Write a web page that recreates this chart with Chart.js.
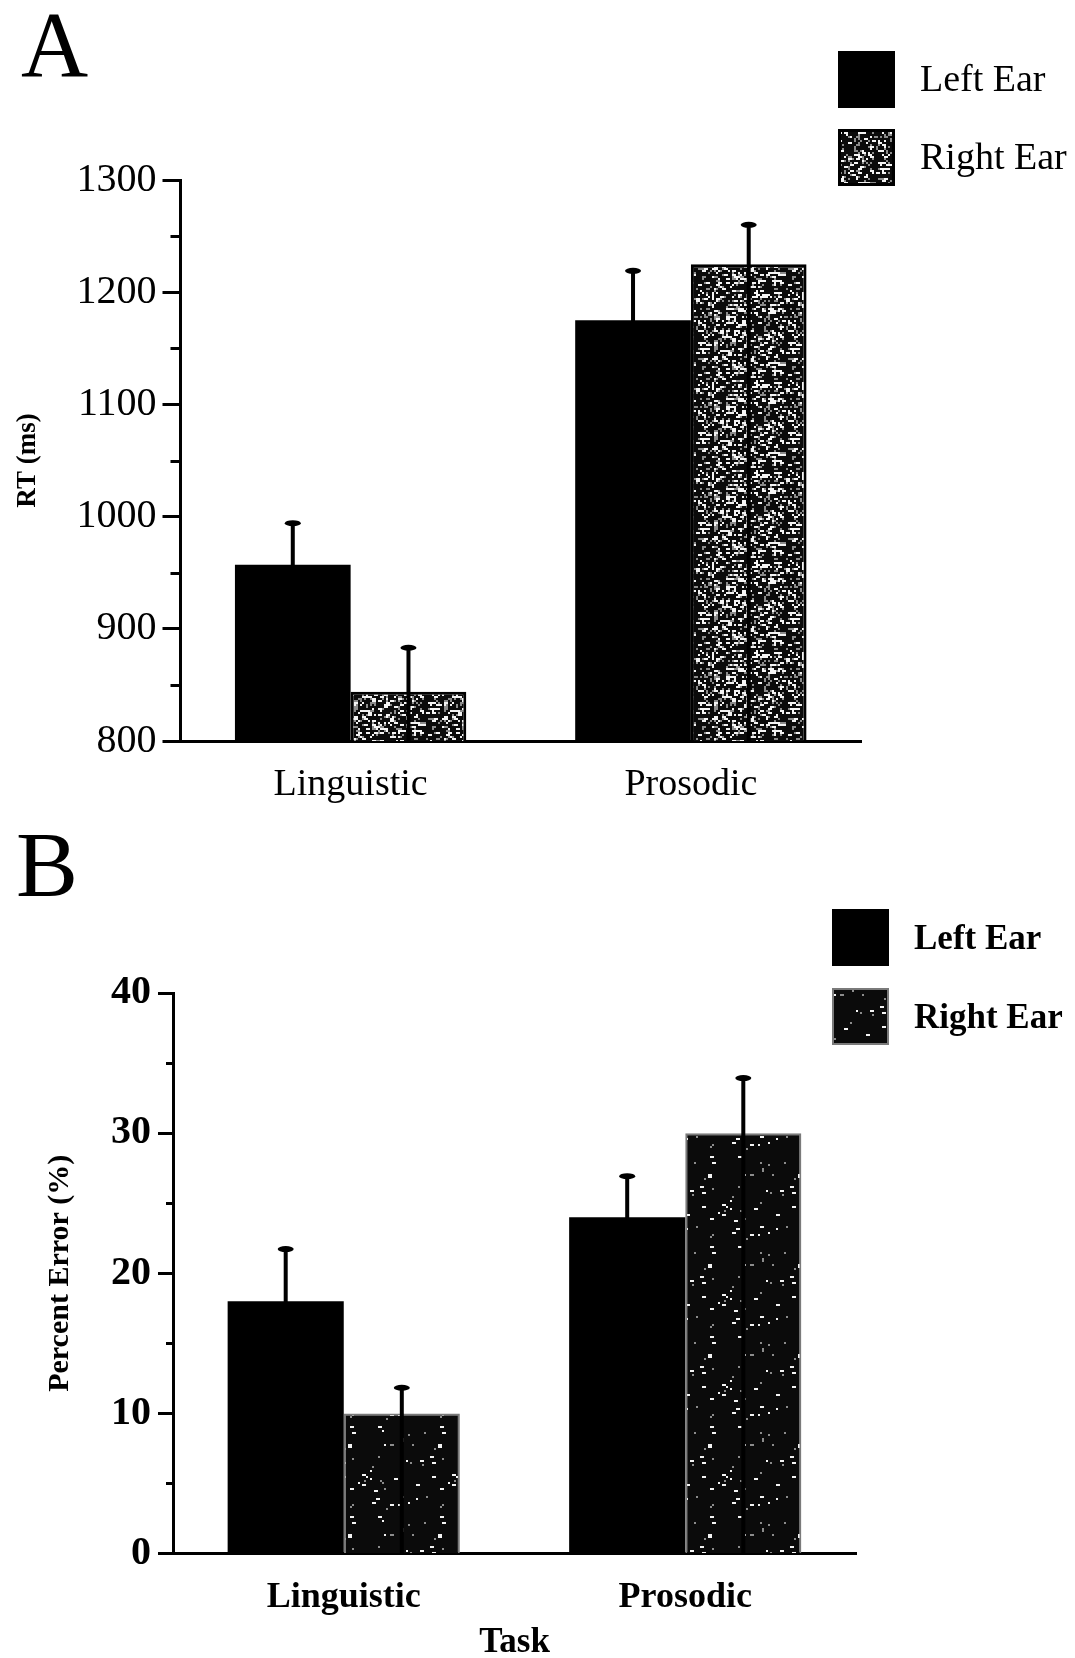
<!DOCTYPE html>
<html>
<head>
<meta charset="utf-8">
<script src="https://cdn.jsdelivr.net/npm/chart.js@4.4.0/dist/chart.umd.min.js"></script>
<style>
  body { margin: 0; background: #fff; }
  canvas { display: block; }
</style>
</head>
<body>
<canvas id="rtChart" width="1075" height="820"></canvas>
<canvas id="errChart" width="1075" height="838"></canvas>
<script>
var taskLabels = ["Linguistic", "Prosodic"];
var seriesNames = ["Left Ear", "Right Ear"];

// panel A - reaction time (ms)
var rtLeft = [957, 1175];
var rtRight = [844, 1225];
var rtLeftTop = [995, 1220];   // top of the error bar
var rtRightTop = [884, 1261];
var rtTicks = [800, 900, 1000, 1100, 1200, 1300];

// panel B - percent error
var peLeft = [18, 24];
var peRight = [10, 30];
var peLeftTop = [21.8, 27];
var peRightTop = [11.9, 34];
var peTicks = [0, 10, 20, 30, 40];

var SERIF = "'Liberation Serif', 'Times New Roman', serif";
Chart.defaults.font.family = SERIF;
Chart.defaults.color = "#000";

// halftone-ish speckle, deterministic (hash, no random)
function hash(i, j, seed) {
  var s = Math.sin(i * 12.9898 + j * 78.233 + seed * 37.719) * 43758.5453;
  return s - Math.floor(s);
}
function speckle(ctx, amount, seed) {
  var c = document.createElement("canvas");
  c.width = 90; c.height = 90;
  var g = c.getContext("2d");
  g.fillStyle = "#0b0b0b";
  g.fillRect(0, 0, 90, 90);
  for (var i = 0; i < 45; i++) {
    for (var j = 0; j < 45; j++) {
      var h = hash(i, j, seed);
      if (h < amount) {
        g.fillStyle = h < amount * 0.55 ? "#f4f4f4" : "#8c8c8c";
        g.fillRect(i * 2, j * 2, h < amount * 0.3 ? 4 : 2, 2);
      }
    }
  }
  return ctx.createPattern(c, "repeat");
}

function midpoints(ticks) {
  var out = [];
  for (var i = 1; i < ticks.length; i++) out.push((ticks[i - 1] + ticks[i]) / 2);
  return out;
}

var minorTicks = {
  id: "minorTicks",
  afterDraw: function (chart, args, o) {
    var ctx = chart.ctx, y = chart.scales.y, left = chart.chartArea.left;
    ctx.save();
    ctx.strokeStyle = "#000";
    ctx.lineWidth = 3;
    o.values.forEach(function (v) {
      var py = Math.round(y.getPixelForValue(v)) + 0.5;
      ctx.beginPath();
      ctx.moveTo(left - o.length, py);
      ctx.lineTo(left, py);
      ctx.stroke();
    });
    ctx.restore();
  }
};

var errorBars = {
  id: "errorBars",
  afterDatasetsDraw: function (chart) {
    var ctx = chart.ctx, y = chart.scales.y;
    ctx.save();
    ctx.fillStyle = "#000";
    chart.data.datasets.forEach(function (ds, di) {
      chart.getDatasetMeta(di).data.forEach(function (bar, i) {
        var top = y.getPixelForValue(ds.errTop[i]);
        var base = Math.min(bar.base, chart.chartArea.bottom);
        ctx.fillRect(bar.x - 2, top, 4, base - top);
        ctx.beginPath();
        ctx.ellipse(bar.x, top + 1, 8, 3, 0, 0, Math.PI * 2);
        ctx.fill();
      });
    });
    ctx.restore();
  }
};

var sideLegend = {
  id: "sideLegend",
  afterDraw: function (chart, args, o) {
    var ctx = chart.ctx;
    ctx.save();
    ctx.font = o.font;
    ctx.textBaseline = "middle";
    chart.data.datasets.forEach(function (ds, i) {
      var top = o.top + i * o.step;
      ctx.fillStyle = ds.backgroundColor;
      ctx.fillRect(o.x, top, o.size, o.size);
      if (ds.borderWidth) {
        var bw = ds.borderWidth;
        ctx.lineWidth = bw;
        ctx.strokeStyle = ds.borderColor;
        ctx.strokeRect(o.x + bw / 2, top + bw / 2, o.size - bw, o.size - bw);
      }
      ctx.fillStyle = "#000";
      ctx.fillText(ds.label, o.x + o.size + o.gap, top + o.size / 2 + 2);
    });
    ctx.restore();
  }
};

function setTicks(list) {
  return function (scale) {
    scale.ticks = list.map(function (v) { return { value: v }; });
  };
}
function plainNum(v) { return String(v); }

// ---------- panel A ----------
var ctxA = document.getElementById("rtChart").getContext("2d");
new Chart(ctxA, {
  type: "bar",
  plugins: [minorTicks, errorBars, sideLegend],
  data: {
    labels: taskLabels,
    datasets: [{
      label: seriesNames[0],
      data: rtLeft,
      errTop: rtLeftTop,
      backgroundColor: "#000",
      borderWidth: 0
    }, {
      label: seriesNames[1],
      data: rtRight,
      errTop: rtRightTop,
      backgroundColor: speckle(ctxA, 0.26, 1),
      borderColor: "#000",
      borderWidth: 3
    }]
  },
  options: {
    responsive: false,
    animation: false,
    devicePixelRatio: 1,
    categoryPercentage: 0.68,
    barPercentage: 1,
    layout: { padding: { left: 21, right: 214, top: 0, bottom: -10 } },
    plugins: {
      legend: { display: false },
      tooltip: { enabled: false },
      title: {
        display: true, text: "A", align: "start",
        font: { size: 93, weight: "normal", lineHeight: 1 },
        padding: { top: 5, bottom: 82 }
      },
      minorTicks: { values: midpoints(rtTicks), length: 10 },
      sideLegend: { x: 838, top: 51, step: 78, size: 57, gap: 25, font: "38px " + SERIF }
    },
    scales: {
      x: {
        grid: { display: false, drawTicks: false },
        border: { display: true, width: 3, color: "#000" },
        ticks: { font: { size: 38, lineHeight: 0.5 }, padding: 35 }
      },
      y: {
        min: 800, max: 1300,
        afterBuildTicks: setTicks(rtTicks),
        grid: { drawOnChartArea: false, tickLength: 18, tickWidth: 3, tickColor: "#000" },
        border: { width: 3, color: "#000" },
        ticks: { font: { size: 40 }, padding: 6, callback: plainNum },
        title: {
          display: true, text: "RT (ms)",
          font: { size: 27, weight: "bold", lineHeight: 0.5 },
          padding: { top: 0, bottom: 36 }
        }
      }
    }
  }
});

// ---------- panel B ----------
var ctxB = document.getElementById("errChart").getContext("2d");
new Chart(ctxB, {
  type: "bar",
  plugins: [minorTicks, errorBars, sideLegend],
  data: {
    labels: taskLabels,
    datasets: [{
      label: seriesNames[0],
      data: peLeft,
      errTop: peLeftTop,
      backgroundColor: "#000",
      borderWidth: 0
    }, {
      label: seriesNames[1],
      data: peRight,
      errTop: peRightTop,
      backgroundColor: speckle(ctxB, 0.025, 7),
      borderColor: "#7a7a7a",
      borderWidth: 2
    }]
  },
  options: {
    responsive: false,
    animation: false,
    devicePixelRatio: 1,
    categoryPercentage: 0.68,
    barPercentage: 1,
    layout: { padding: { left: 16, right: 219, top: 0, bottom: 13 } },
    plugins: {
      legend: { display: false },
      tooltip: { enabled: false },
      title: {
        display: true, text: "B", align: "start",
        font: { size: 93, weight: "normal", lineHeight: 1 },
        padding: { top: 5, bottom: 75 }
      },
      minorTicks: { values: midpoints(peTicks), length: 7 },
      sideLegend: { x: 832, top: 89, step: 79, size: 57, gap: 25, font: "bold 35px " + SERIF }
    },
    scales: {
      x: {
        grid: { display: false, drawTicks: false },
        border: { display: true, width: 3, color: "#000" },
        ticks: { font: { size: 36, weight: "bold", lineHeight: 0.5 }, padding: 35 },
        title: {
          display: true, text: "Task",
          font: { size: 35, weight: "bold", lineHeight: 0.1 },
          padding: { top: 0, bottom: 0 }
        }
      },
      y: {
        min: 0, max: 40,
        afterBuildTicks: setTicks(peTicks),
        grid: { drawOnChartArea: false, tickLength: 15, tickWidth: 3, tickColor: "#000" },
        border: { width: 3, color: "#000" },
        ticks: { font: { size: 40, weight: "bold" }, padding: 7, callback: plainNum },
        title: {
          display: true, text: "Percent Error (%)",
          font: { size: 30, weight: "bold", lineHeight: 1 },
          padding: { top: 29, bottom: 29 }
        }
      }
    }
  }
});
</script>
</body>
</html>
